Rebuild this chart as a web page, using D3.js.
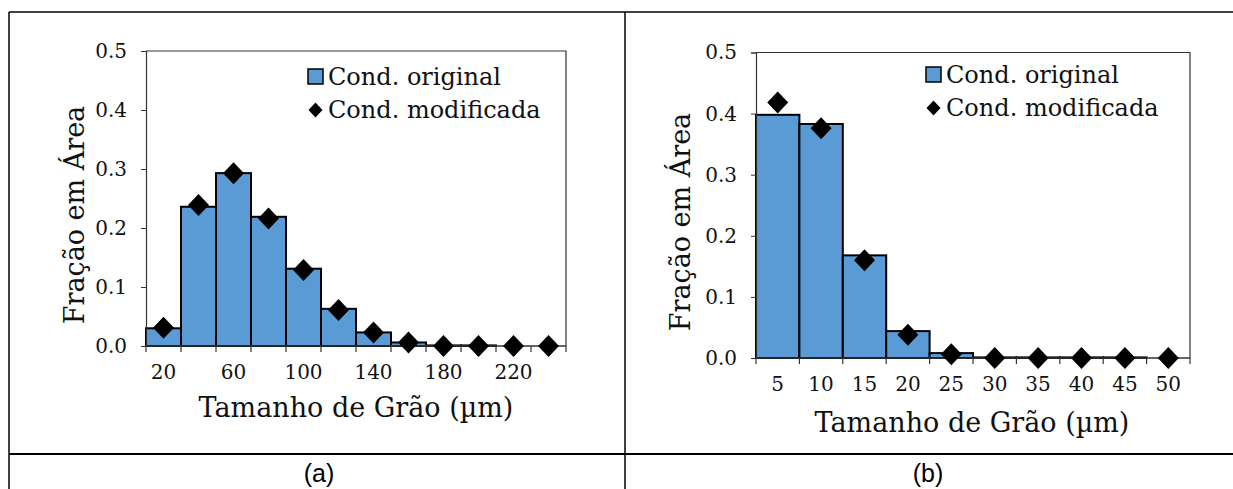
<!DOCTYPE html>
<html>
<head>
<meta charset="utf-8">
<style>
  body { margin: 0; background: #fff; }
  svg { display: block; }
  text { font-family: "DejaVu Serif", serif; fill: #111; }
  .caption { font-family: "Liberation Sans", Arial, sans-serif; font-size: 25px; fill: #000; }
</style>
<script src="https://cdn.jsdelivr.net/npm/d3@7"></script>
</head>
<body>
<svg id="figura" width="1233" height="489"></svg>
<script>
  // dados
  const binsA = ["20", "40", "60", "80", "100", "120", "140", "160", "180", "200", "220", "240"];
  const originalA = [0.030, 0.236, 0.293, 0.219, 0.131, 0.063, 0.023, 0.006, 0.001, 0.001, 0, 0];
  const modificadaA = [0.031, 0.239, 0.293, 0.216, 0.129, 0.061, 0.023, 0.006, 0, 0, 0, 0];
  const rotulosA = ["20", "60", "100", "140", "180", "220"];

  const binsB = ["5", "10", "15", "20", "25", "30", "35", "40", "45", "50"];
  const originalB = [0.398, 0.383, 0.168, 0.044, 0.008, 0.001, 0.001, 0.001, 0.001, 0];
  const modificadaB = [0.418, 0.376, 0.160, 0.038, 0.006, 0, 0, 0, 0, 0];
  const rotulosB = binsB;

  const yTicks = [0, 0.1, 0.2, 0.3, 0.4, 0.5];
  const legenda = ["Cond. original", "Cond. modificada"];
  const legendaPaineis = ["(a)", "(b)"];

  const azul = "#5B9BD5";
  const svg = d3.select("#figura");

  // moldura da tabela
  const moldura = svg.append("g").attr("stroke", "#000");
  moldura.append("line").attr("x1", 9).attr("x2", 1233).attr("y1", 12).attr("y2", 12).attr("stroke-width", 1.5);
  moldura.append("line").attr("x1", 9).attr("x2", 1233).attr("y1", 454).attr("y2", 454).attr("stroke-width", 2);
  moldura.append("line").attr("x1", 9).attr("x2", 9).attr("y1", 12).attr("y2", 489).attr("stroke-width", 1.5);
  moldura.append("line").attr("x1", 625).attr("x2", 625).attr("y1", 12).attr("y2", 489).attr("stroke-width", 1.5);

  svg.append("text").attr("class", "caption").attr("x", 319).attr("y", 482)
     .attr("text-anchor", "middle").text(legendaPaineis[0]);
  svg.append("text").attr("class", "caption").attr("x", 928).attr("y", 482)
     .attr("text-anchor", "middle").text(legendaPaineis[1]);

  function diamante(rx, ry) {
    return `M0,${-ry}L${rx},0L0,${ry}L${-rx},0Z`;
  }

  function desenharGrafico(cfg) {
    const { bins, original, modificada, rotulos, x0, x1, y0, y1, legX, legY, tituloY, tituloX } = cfg;

    const escalaX = d3.scaleBand().domain(bins).range([x0, x1]).padding(0);
    const escalaY = d3.scaleLinear().domain([0, 0.5]).range([y0, y1]);
    const g = svg.append("g");

    // barras
    g.selectAll(".barra").data(bins).enter().append("rect")
      .attr("x", d => escalaX(d))
      .attr("width", escalaX.bandwidth())
      .attr("y", (d, i) => escalaY(original[i]))
      .attr("height", (d, i) => escalaY(0) - escalaY(original[i]))
      .attr("fill", azul)
      .attr("stroke", "#000")
      .attr("stroke-width", 2);

    // contorno da área do gráfico
    g.append("path")
      .attr("d", `M${x0},${y1}H${x1}V${y0}`)
      .attr("fill", "none").attr("stroke", "#333").attr("stroke-width", 1.2);

    // eixo Y
    const ejeY = d3.axisLeft(escalaY).tickValues(yTicks).tickFormat(d3.format(".1f")).tickSize(5).tickPadding(14);
    const gy = g.append("g").attr("transform", `translate(${x0},0)`).call(ejeY);
    gy.select(".domain").attr("stroke", "#333").attr("stroke-width", 1.2);
    gy.selectAll(".tick line").attr("stroke", "#333");
    gy.selectAll("text").attr("font-size", 20).attr("fill", "#2a2a2a").attr("font-family", "DejaVu Serif");

    // eixo X: marcas nas fronteiras das classes
    const fronteiras = bins.map(b => escalaX(b)).concat([x1]);
    g.selectAll(".marcaX").data(fronteiras).enter().append("line")
      .attr("x1", d => d).attr("x2", d => d)
      .attr("y1", y0).attr("y2", y0 + 6)
      .attr("stroke", "#333").attr("stroke-width", 1.2);
    g.append("line").attr("x1", x0).attr("x2", x1).attr("y1", y0).attr("y2", y0)
      .attr("stroke", "#333").attr("stroke-width", 1.5);
    g.selectAll(".rotuloX").data(rotulos).enter().append("text")
      .attr("x", d => escalaX(d) + escalaX.bandwidth() / 2)
      .attr("y", y0 + 33)
      .attr("text-anchor", "middle")
      .attr("font-size", 20).attr("fill", "#2a2a2a")
      .text(d => d);

    // pontos (losangos)
    g.selectAll(".ponto").data(bins).enter().append("path")
      .attr("d", diamante(10.5, 11))
      .attr("transform", (d, i) => `translate(${escalaX(d) + escalaX.bandwidth() / 2},${escalaY(modificada[i])})`)
      .attr("fill", "#000");

    // títulos dos eixos
    g.append("text").attr("x", tituloX[0]).attr("y", tituloX[1])
      .attr("text-anchor", "middle").attr("font-size", 27).text("Tamanho de Grão (µm)");
    g.append("text").attr("transform", `translate(${tituloY[0]},${tituloY[1]}) rotate(-90)`)
      .attr("text-anchor", "middle").attr("font-size", 27).text("Fração em Área");

    // legenda
    const leg = g.append("g").attr("transform", `translate(${legX},${legY})`);
    leg.append("rect").attr("x", 0).attr("y", -8).attr("width", 15).attr("height", 15)
      .attr("fill", azul).attr("stroke", "#000").attr("stroke-width", 1.5);
    leg.append("text").attr("x", 20).attr("y", 8).attr("font-size", 24).text(legenda[0]);
    leg.append("path").attr("d", diamante(7, 7.5)).attr("transform", "translate(7.5,33)").attr("fill", "#000");
    leg.append("text").attr("x", 20).attr("y", 41).attr("font-size", 24).text(legenda[1]);
  }

  desenharGrafico({
    bins: binsA, original: originalA, modificada: modificadaA, rotulos: rotulosA,
    x0: 146, x1: 566, y0: 346, y1: 51,
    legX: 308, legY: 77, tituloY: [84, 215], tituloX: [356, 417]
  });

  desenharGrafico({
    bins: binsB, original: originalB, modificada: modificadaB, rotulos: rotulosB,
    x0: 756, x1: 1190, y0: 358, y1: 52.5,
    legX: 926, legY: 75, tituloY: [690, 222], tituloX: [972, 432]
  });
</script>
</body>
</html>
